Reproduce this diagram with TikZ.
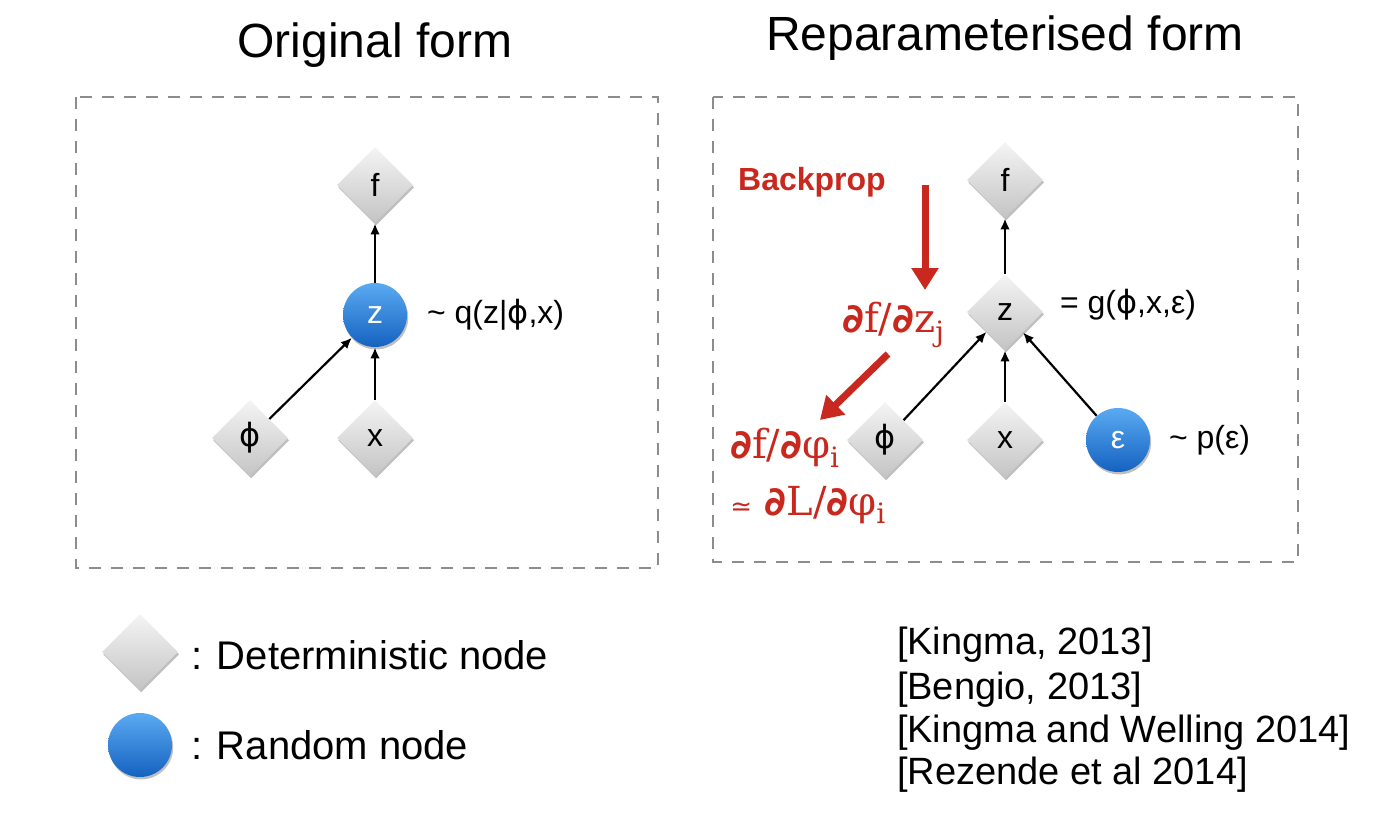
\documentclass[tikz,border=0pt]{standalone}
\usepackage{fontspec}
\setmainfont{Liberation Sans}
\newfontfamily\serifr{DejaVu Serif}
\newfontfamily\dejavu{DejaVu Sans}
\usetikzlibrary{shapes.geometric,arrows.meta,shadows}
\definecolor{redc}{HTML}{C8281E}
\definecolor{dtop}{HTML}{F4F4F4}
\definecolor{dbot}{HTML}{C4C4C4}
\definecolor{ctop}{HTML}{5AAAF2}
\definecolor{cbot}{HTML}{1462C0}
\definecolor{boxc}{HTML}{8C8C8C}
\newcommand{\pd}{{\dejavu\bfseries ∂}}
\newcommand{\sbx}[1]{\raisebox{-0.22em}{\fontsize{14}{16}\selectfont #1}}
\newcommand{\sphi}{{\dejavu ϕ}}
\begin{document}
\begin{tikzpicture}[x=0.5pt,y=-0.5pt,
  detnode/.style={diamond,aspect=1,minimum width=38pt,minimum height=38pt,inner sep=0pt,
    top color=dtop,bottom color=dbot,draw=none,
    drop shadow={shadow xshift=0.6pt,shadow yshift=-1.2pt,opacity=0.25,fill=black},
    font=\fontsize{16}{19}\selectfont},
  rndnode/.style={circle,minimum size=32pt,inner sep=0pt,
    top color=ctop,bottom color=cbot,draw=none,text=white,
    drop shadow={shadow xshift=0.6pt,shadow yshift=-1.2pt,opacity=0.25,fill=black},
    font=\fontsize{16}{19}\selectfont},
  conn/.style={-{Latex[length=5.5pt,width=4.8pt]},line width=1.1pt,black},
  redarr/.style={-{Triangle[length=11pt,width=13pt]},line width=3.5pt,redc},
  box/.style={draw=boxc,line width=0.9pt,dash pattern=on 6pt off 5pt},
  title/.style={font=\fontsize{24}{28}\selectfont},
  lbl/.style={font=\fontsize{16}{19}\selectfont,anchor=west},
  legtxt/.style={font=\fontsize{20}{24}\selectfont,anchor=west},
  redtxt/.style={font=\serifr\fontsize{20}{24}\selectfont,text=redc,anchor=west,inner sep=0pt},
  reftxt/.style={font=\fontsize{19}{22}\selectfont,anchor=west}
]
\useasboundingbox (0,0) rectangle (1382,814);

% titles
\node[title] (t1) at (375,45) {Original form};
\node[title] (t2) at (1005,38) {Reparameterised form};

% boxes
\draw[box] (76,97) rectangle (658,568);
\draw[box] (713,97) rectangle (1298,562);

% left diagram
\node[detnode] (lf) at (375,185) {f};
\node[rndnode] (lz) at (375,315) {z};
\node[detnode] (lphi) at (250,438) {\sphi};
\node[detnode] (lx) at (375,438) {x};
\draw[conn] (lz) -- (lf);
\draw[conn] (lphi) -- (lz);
\draw[conn] (lx) -- (lz);
\node[lbl] (lq) at (420,315) {\textasciitilde{} q(z|\sphi,x)};

% right diagram
\node[detnode] (rf) at (1005,180) {f};
\node[detnode] (rz) at (1005,312) {z};
\node[detnode] (rphi) at (885,440) {\sphi};
\node[detnode] (rx) at (1005,440) {x};
\node[rndnode] (reps) at (1118,440) {ε};
\draw[conn] (rz) -- (rf);
\draw[conn] (rphi) -- (rz);
\draw[conn] (rx) -- (rz);
\draw[conn] (reps) -- (rz);
\node[lbl] (rg) at (1053,305) {= g(\sphi,x,ε)};
\node[lbl] (rp) at (1162,440) {\textasciitilde{} p(ε)};

% backprop
\node[font=\bfseries\fontsize{16}{19}\selectfont,text=redc] (bp) at (812,182) {Backprop};
\coordinate (b1) at (925,185);
\coordinate (b2) at (925,290);
\draw[redarr] (b1) -- (b2);
\node[redtxt] (dz) at (842,325) {\pd f/\pd z\sbx{j}};
\coordinate (c1) at (888,354);
\coordinate (c2) at (820,420);
\draw[redarr] (c1) -- (c2);
\node[redtxt] (dphi) at (730,448) {\pd f/\pd φ\sbx{i}};
\node[redtxt] (dl) at (730,505) {{\dejavu\fontsize{13}{15}\selectfont ≃} \pd L/\pd φ\sbx{i}};

% legend
\node[detnode] (ld) at (140,652) {};
\node[rndnode] (lr) at (140,745) {};
\node[legtxt] (ldt) at (184,655) {: Deterministic node};
\node[legtxt] (lrt) at (184,745) {: Random node};

% references
\node[reftxt] (r1) at (890,645) {[Kingma, 2013]};
\node[reftxt] (r2) at (890,690) {[Bengio, 2013]};
\node[reftxt] (r3) at (890,733) {[Kingma and Welling 2014]};
\node[reftxt] (r4) at (890,775) {[Rezende et al 2014]};
\end{tikzpicture}
\end{document}
